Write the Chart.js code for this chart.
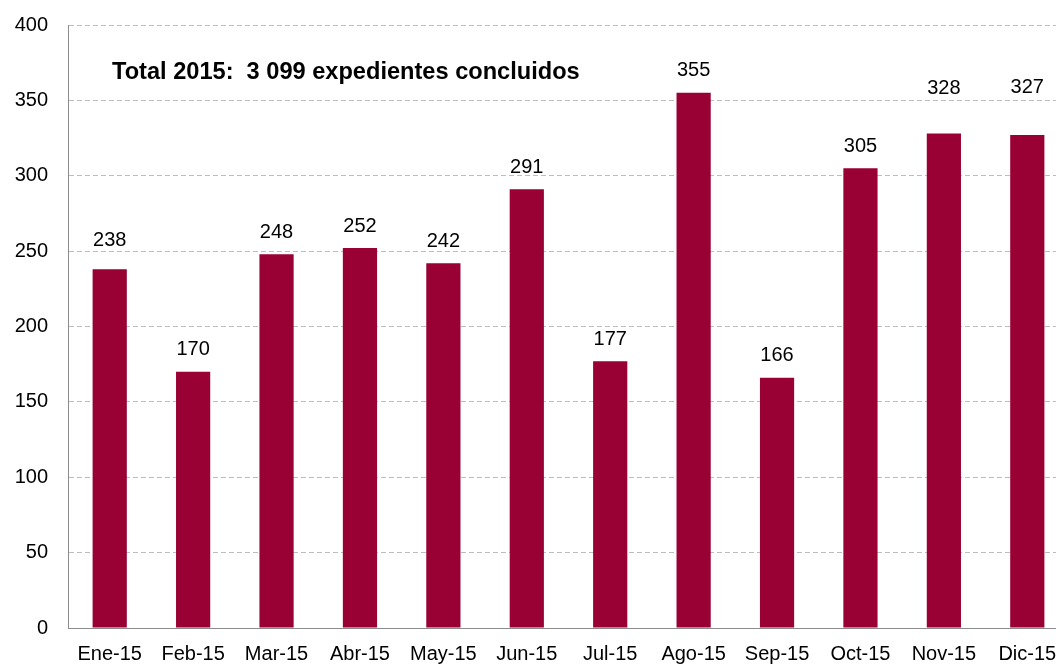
<!DOCTYPE html>
<html>
<head>
<meta charset="utf-8">
<script src="https://cdn.jsdelivr.net/npm/chart.js@4"></script>
<style>
html,body{margin:0;padding:0;background:#fff;overflow:hidden;}
#wrap{width:1076px;height:664px;}
</style>
</head>
<body>
<div id="wrap"><canvas id="c" width="1076" height="664"></canvas></div>
<script>
const categories = ["Ene-15","Feb-15","Mar-15","Abr-15","May-15","Jun-15","Jul-15","Ago-15","Sep-15","Oct-15","Nov-15","Dic-15"];
const expedientes = [238,170,248,252,242,291,177,355,166,305,328,327];
const yTicks = [0,50,100,150,200,250,300,350,400];
const titleText = "Total 2015:  3 099 expedientes concluidos";

const FONT = "'Liberation Sans', Arial, sans-serif";
const BAR = "#990033";

const labelLift = {0: 7, 10: 23, 11: 26};

const valueLabels = {
  id: 'valueLabels',
  afterDatasetsDraw(chart) {
    const ctx = chart.ctx;
    const meta = chart.getDatasetMeta(0);
    ctx.save();
    ctx.font = "20px " + FONT;
    ctx.fillStyle = "#000";
    ctx.textAlign = "center";
    ctx.textBaseline = "middle";
    meta.data.forEach((el, i) => {
      const lift = 22 + (labelLift[i] || 0);
      ctx.fillText(String(expedientes[i]), el.x, el.y - lift);
    });
    ctx.restore();
  }
};

const innerTitle = {
  id: 'innerTitle',
  afterDraw(chart) {
    const ctx = chart.ctx;
    const a = chart.chartArea;
    ctx.save();
    ctx.font = "bold 23.6px " + FONT;
    ctx.fillStyle = "#000";
    ctx.textAlign = "left";
    ctx.textBaseline = "middle";
    ctx.fillText(titleText, a.left + 44, chart.scales.y.getPixelForValue(368.5));
    ctx.restore();
  }
};

new Chart(document.getElementById('c'), {
  type: 'bar',
  data: {
    labels: categories,
    datasets: [{
      data: expedientes,
      backgroundColor: BAR,
      borderWidth: 0,
      barPercentage: 0.41,
      categoryPercentage: 1.0
    }]
  },
  options: {
    responsive: false,
    animation: false,
    devicePixelRatio: 1,
    layout: { padding: { top: 25, right: 7, left: 0, bottom: 0 } },
    plugins: { legend: { display: false }, tooltip: { enabled: false }, title: { display: false } },
    scales: {
      x: {
        grid: { display: false, drawTicks: false },
        border: { display: true, color: "#8c8c8c", width: 1 },
        ticks: { color: "#000", font: { family: FONT, size: 20 }, padding: 14, maxRotation: 0, autoSkip: false },
        afterFit(scale) { scale.height = 36; scale.paddingLeft = 0; scale.paddingRight = 0; }
      },
      y: {
        min: 0, max: 400,
        afterBuildTicks(scale) { scale.ticks = yTicks.map(v => ({ value: v })); },
        grid: {
          drawTicks: false,
          color: (c) => (c.tick && c.tick.value === 0) ? "rgba(0,0,0,0)" : "#bdbdbd",
          lineWidth: 1
        },
        border: { display: true, color: "#8c8c8c", width: 1, dash: [5, 3] },
        ticks: { color: "#000", font: { family: FONT, size: 20 }, padding: 20 },
        afterFit(scale) { scale.width = 68; scale.paddingTop = 0; scale.paddingBottom = 0; }
      }
    }
  },
  plugins: [valueLabels, innerTitle]
});
</script>
</body>
</html>
